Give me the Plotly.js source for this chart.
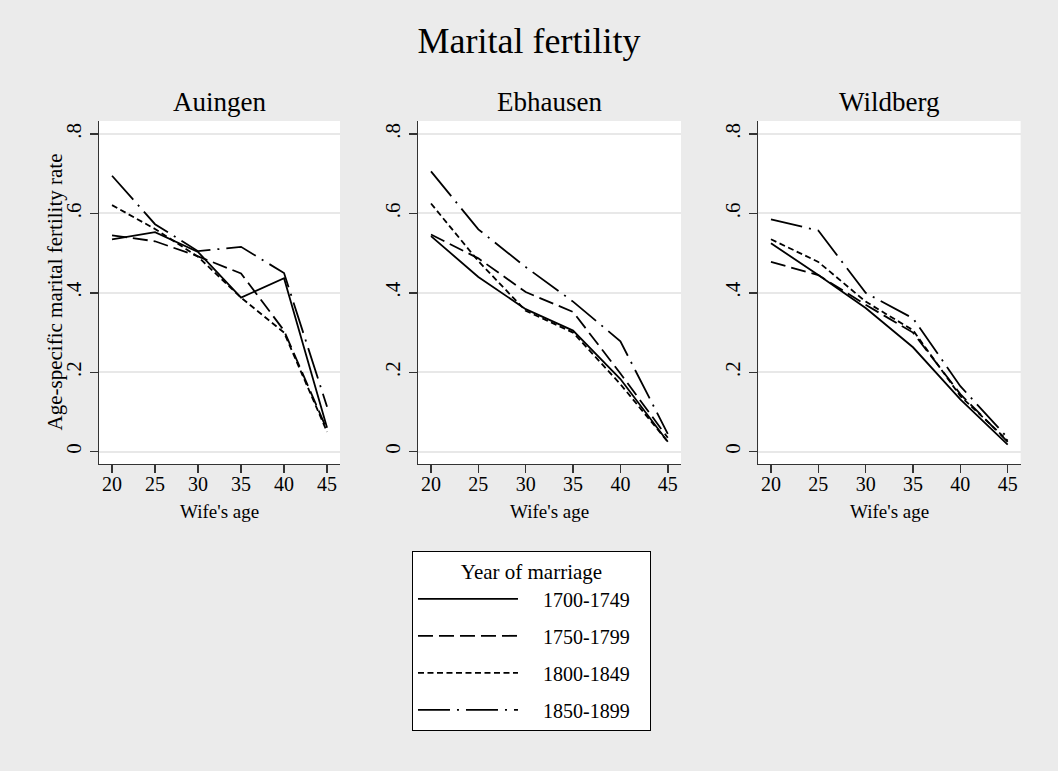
<!DOCTYPE html>
<html>
<head>
<meta charset="utf-8">
<script src="https://cdn.plot.ly/plotly-3.0.1.min.js"></script>
<style>html,body{margin:0;padding:0;background:#EBEBEB;}</style>
</head>
<body>
<div id="chart" style="width:1058px;height:771px;"></div>
<script>
// ---- data ----
const ages = [20, 25, 30, 35, 40, 45];
const periods = ['1700-1749', '1750-1799', '1800-1849', '1850-1899'];
const villages = ['Auingen', 'Ebhausen', 'Wildberg'];

const auingen1700 = [0.535, 0.553, 0.503, 0.388, 0.437, 0.060];
const auingen1750 = [0.545, 0.530, 0.492, 0.449, 0.305, 0.055];
const auingen1800 = [0.621, 0.561, 0.491, 0.388, 0.300, 0.050];
const auingen1850 = [0.695, 0.573, 0.505, 0.516, 0.450, 0.113];

const ebhausen1700 = [0.543, 0.440, 0.359, 0.305, 0.183, 0.025];
const ebhausen1750 = [0.547, 0.487, 0.402, 0.352, 0.197, 0.035];
const ebhausen1800 = [0.625, 0.480, 0.355, 0.300, 0.170, 0.025];
const ebhausen1850 = [0.706, 0.560, 0.465, 0.378, 0.278, 0.045];

const wildberg1700 = [0.525, 0.445, 0.362, 0.263, 0.132, 0.018];
const wildberg1750 = [0.478, 0.445, 0.370, 0.300, 0.145, 0.025];
const wildberg1800 = [0.535, 0.478, 0.378, 0.306, 0.140, 0.028];
const wildberg1850 = [0.585, 0.557, 0.400, 0.336, 0.165, 0.035];

const xTickVals = [20, 25, 30, 35, 40, 45];
const yTickVals = [0, 0.2, 0.4, 0.6, 0.8];
const yTickText = ['0', '.2', '.4', '.6', '.8'];

const xTitle = "Wife's age";
const yTitle = 'Age-specific marital fertility rate';
const legendTitle = 'Year of marriage';

// ---- styles ----
const FONT = 'Liberation Serif, Times New Roman, serif';
const dashes = ['solid', '15px,6px', '6px,3.5px', '32px,7px,2px,7px'];
const NB = '\u00A0';
const seriesByVillage = [
  [auingen1700, auingen1750, auingen1800, auingen1850],
  [ebhausen1700, ebhausen1750, ebhausen1800, ebhausen1850],
  [wildberg1700, wildberg1750, wildberg1800, wildberg1850]
];

const traces = [];
seriesByVillage.forEach((series, v) => {
  series.forEach((vals, s) => {
    traces.push({
      type: 'scatter', mode: 'lines',
      x: ages, y: vals,
      name: NB + NB + NB + NB + periods[s] + NB + NB + NB,
      legendgroup: 'g' + s,
      showlegend: v === 0,
      line: {color: '#000', width: 1.8, dash: dashes[s]},
      xaxis: v === 0 ? 'x' : 'x' + (v + 1),
      yaxis: v === 0 ? 'y' : 'y' + (v + 1)
    });
  });
});

const xDomains = [[0.0936, 0.3214], [0.3951, 0.6437], [0.7167, 0.9647]];
const xRanges = [[18.49, 46.51], [18.63, 46.40], [18.66, 46.37]];
const yDomain = [0.3982, 0.8431];
const yRange = [-0.031, 0.833];

function xAxis(i) {
  return {
    domain: xDomains[i], range: xRanges[i], anchor: i === 0 ? 'y' : 'y' + (i + 1),
    tickvals: xTickVals, ticks: 'outside', ticklen: 8, tickwidth: 1.5, tickcolor: '#333',
    ticklabelstandoff: -6,
    showline: true, linecolor: '#333', linewidth: 1.5, showgrid: false, zeroline: false,
    tickfont: {size: 20, family: FONT, color: '#000'}, automargin: false, fixedrange: true
  };
}
function yAxis(i) {
  return {
    domain: yDomain, range: yRange, anchor: i === 0 ? 'x' : 'x' + (i + 1),
    tickvals: yTickVals, ticktext: yTickText, tickangle: -90,
    ticks: 'outside', ticklen: 8, tickwidth: 1.5, tickcolor: '#333',
    showline: true, linecolor: '#333', linewidth: 1.5,
    showgrid: true, gridcolor: '#E8E8E8', gridwidth: 2, zeroline: false,
    tickfont: {size: 21, family: FONT, color: '#000'}, automargin: false, fixedrange: true
  };
}

const annotations = [];
villages.forEach((name, i) => {
  const cx = (xDomains[i][0] + xDomains[i][1]) / 2;
  annotations.push({
    text: name, xref: 'paper', yref: 'paper', x: cx, y: 0.8673,
    xanchor: 'center', yanchor: 'middle', showarrow: false,
    font: {size: 27, family: FONT, color: '#000'}
  });
  annotations.push({
    text: xTitle, xref: 'paper', yref: 'paper', x: cx, y: 1 - 511 / 771,
    xanchor: 'center', yanchor: 'middle', showarrow: false,
    font: {size: 19, family: FONT, color: '#000'}
  });
});
annotations.push({
  text: yTitle, xref: 'paper', yref: 'paper', x: 55 / 1058, y: (yDomain[0] + yDomain[1]) / 2,
  xanchor: 'center', yanchor: 'middle', showarrow: false, textangle: -90,
  font: {size: 21, family: FONT, color: '#000'}
});

const layout = {
  width: 1058, height: 771,
  margin: {l: 0, r: 0, t: 0, b: 0},
  paper_bgcolor: '#EBEBEB', plot_bgcolor: '#FFFFFF',
  font: {family: FONT, color: '#000'},
  title: {text: 'Marital fertility', x: 0.5, xanchor: 'center', y: 0.9476, yanchor: 'middle',
          font: {size: 36, family: FONT, color: '#000'}},
  xaxis: xAxis(0), xaxis2: xAxis(1), xaxis3: xAxis(2),
  yaxis: yAxis(0), yaxis2: yAxis(1), yaxis3: yAxis(2),
  annotations: annotations,
  showlegend: true,
  legend: {
    x: 0.3894, y: 0.2853, xanchor: 'left', yanchor: 'top',
    bgcolor: '#FFFFFF', bordercolor: '#000', borderwidth: 1,
    font: {size: 20, family: FONT, color: '#000'},
    title: {text: legendTitle, side: 'top center', font: {size: 21, family: FONT, color: '#000'}},
    itemwidth: 100, tracegroupgap: 8, traceorder: 'grouped'
  }
};

Plotly.newPlot('chart', traces, layout, {displayModeBar: false, staticPlot: true});
</script>
</body>
</html>
